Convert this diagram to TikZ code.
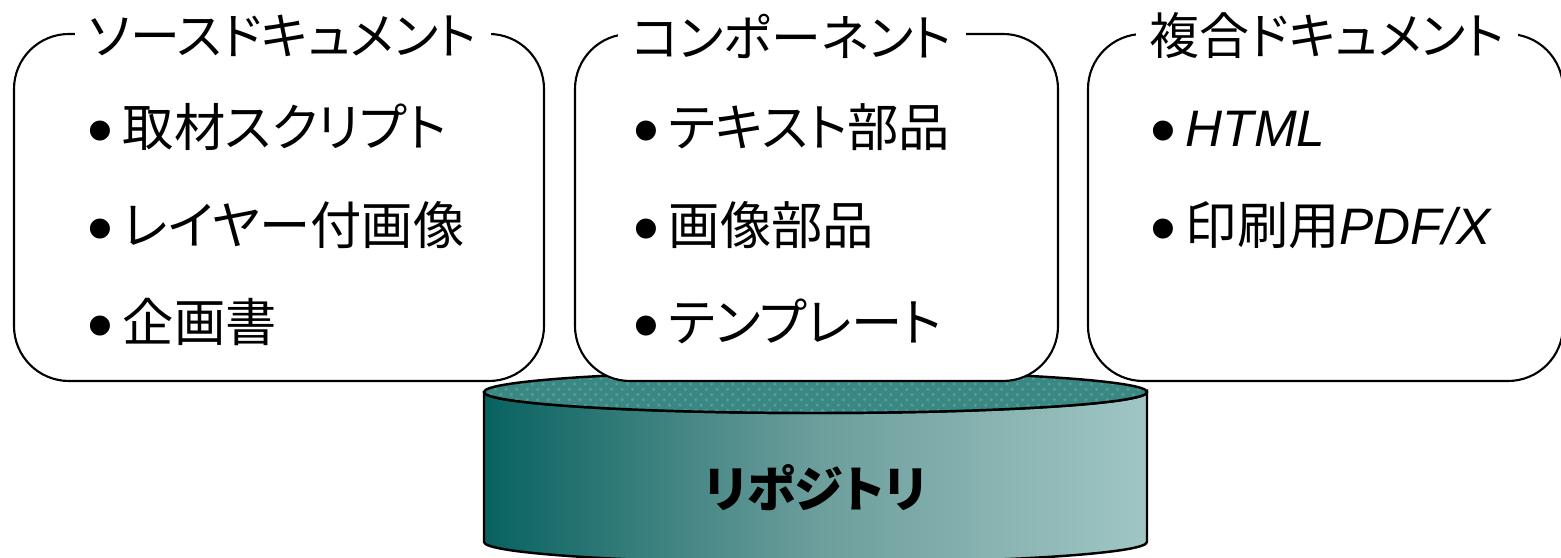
\documentclass[tikz,border=0pt]{standalone}
\usepackage{fontspec}
\setmainfont{Noto Sans CJK JP}[RawFeature=+palt]
\newfontfamily\latinfont{Liberation Sans}
\usepackage{tikz}
\usetikzlibrary{patterns}

\definecolor{cyldark}{RGB}{8,98,96}
\definecolor{cylmid}{RGB}{108,158,156}
\definecolor{cyllight}{RGB}{160,198,196}
\definecolor{cyltop}{RGB}{58,136,132}
\definecolor{cylgrid}{RGB}{88,156,152}

\newcommand{\bul}{\makebox[0.35cm][l]{\raisebox{-2.5pt}{\latinfont\fontsize{21}{21}\selectfont •}}}

\begin{document}
\begin{tikzpicture}[
  box/.style={draw, fill=white, line width=0.6pt, rounded corners=0.55cm},
  boxtitle/.style={fill=white, inner xsep=0.14cm, inner ysep=0.05cm, font=\fontsize{14.2}{17}\selectfont},
  item/.style={anchor=base west, inner sep=0pt, font=\fontsize{14.6}{18}\selectfont}]
\useasboundingbox (0,0) rectangle (15.61,-5.58);

% Repository (cylinder)
\path[draw, line width=0.7pt, left color=cyldark, right color=cyllight, middle color=cylmid]
  (4.84,-3.92) -- (4.84,-5.42) arc[start angle=180, end angle=360, x radius=3.315, y radius=0.21]
  -- (11.47,-3.92) arc[start angle=360, end angle=180, x radius=3.315, y radius=0.21] -- cycle;
\fill[cyltop] (8.155,-3.92) ellipse[x radius=3.315, y radius=0.21];
\fill[pattern=crosshatch dots, pattern color=cylgrid] (8.155,-3.92) ellipse[x radius=3.315, y radius=0.21];
\draw[line width=0.7pt] (8.155,-3.92) ellipse[x radius=3.315, y radius=0.21];
\node[font=\bfseries\fontsize{14}{16}\selectfont] (repo) at (8.155,-4.88) {リポジトリ};

% Source documents
\node[box, minimum width=5.30cm, minimum height=3.47cm] (srcbox) at (2.79,-2.075) {};
\node[boxtitle] (srctitle) at (2.83,-0.36) {ソースドキュメント};
\node[item] (src1) at (0.87,-1.47) {\bul 取材スクリプト};
\node[item] (src2) at (0.87,-2.45) {\bul レイヤー付画像};
\node[item] (src3) at (0.87,-3.42) {\bul 企画書};

% Components
\node[box, minimum width=4.83cm, minimum height=3.47cm] (compbox) at (8.165,-2.075) {};
\node[boxtitle] (comptitle) at (7.92,-0.36) {コンポーネント};
\node[item] (comp1) at (6.33,-1.47) {\bul テキスト部品};
\node[item] (comp2) at (6.33,-2.45) {\bul 画像部品};
\node[item] (comp3) at (6.33,-3.42) {\bul テンプレート};

% Compound documents
\node[box, minimum width=4.75cm, minimum height=3.47cm] (docbox) at (13.255,-2.075) {};
\node[boxtitle] (doctitle) at (13.27,-0.36) {複合ドキュメント};
\node[item] (doc1) at (11.50,-1.47) {\bul{\latinfont\itshape HTML}};
\node[item] (doc2) at (11.50,-2.45) {\bul 印刷用{\latinfont\itshape PDF/X}};

\end{tikzpicture}
\end{document}
